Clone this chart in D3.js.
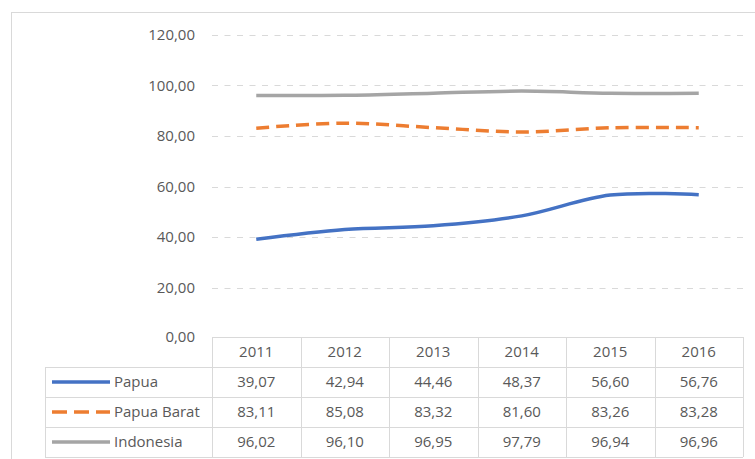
<!DOCTYPE html>
<html><head><meta charset="utf-8">
<script src="https://cdn.jsdelivr.net/npm/d3@7"></script>
<style>body{margin:0;background:#fff}svg{display:block}text{font-family:"Open Sans",sans-serif;fill:#595959}</style>
</head><body><svg id="c" width="755" height="459"></svg>
<script>
const years = ["2011","2012","2013","2014","2015","2016"];
const papua = [39.07, 42.94, 44.46, 48.37, 56.60, 56.76];
const papuaBarat = [83.11, 85.08, 83.32, 81.60, 83.26, 83.28];
const indonesia = [96.02, 96.10, 96.95, 97.79, 96.94, 96.96];
const seriesNames = ["Papua", "Papua Barat", "Indonesia"];
const yTicks = [0, 20, 40, 60, 80, 100, 120];

const series = [
  {name: seriesNames[0], values: papua, color: "#4472C4", dash: null},
  {name: seriesNames[1], values: papuaBarat, color: "#ED7D31", dash: "13,7"},
  {name: seriesNames[2], values: indonesia, color: "#A5A5A5", dash: null}
];
const fmt = v => v.toFixed(2).replace(".", ",");
const FS = "15px";

const svg = d3.select("#c");
svg.append("rect").attr("x", 11.5).attr("y", 12.5).attr("width", 760).attr("height", 460)
  .attr("fill", "none").attr("stroke", "#d9d9d9");

const pLeft = 212, pRight = 743, pTop = 35, pBottom = 338;
const x = d3.scaleBand().domain(years).range([pLeft, pRight]);
const y = d3.scaleLinear().domain([0, 120]).range([pBottom, pTop]);

svg.append("g").selectAll("line").data(yTicks.filter(t => t > 0)).join("line")
  .attr("x1", pLeft).attr("x2", pRight)
  .attr("y1", d => Math.round(y(d)) + 0.5).attr("y2", d => Math.round(y(d)) + 0.5)
  .attr("stroke", "#d9d9d9").attr("stroke-width", 1).attr("stroke-dasharray", "6,6.5");

const yAxis = d3.axisLeft(y).tickValues(yTicks).tickFormat(fmt).tickSize(0).tickPadding(0);
const ya = svg.append("g").attr("transform", "translate(195,0)").call(yAxis);
ya.select(".domain").remove();
ya.selectAll("text").style("font-size", FS).style("font-family", "'Open Sans',sans-serif").attr("fill", "#595959").attr("dy", "0.32em");
ya.selectAll(".tick").filter(d => d === 0).select("text").attr("dy", "0.2em");

const line = d3.line().x((d, i) => x(years[i]) + x.bandwidth() / 2).y(d => y(d)).curve(d3.curveCatmullRom.alpha(0.5));
svg.append("g").selectAll("path").data(series).join("path")
  .attr("d", d => line(d.values)).attr("fill", "none")
  .attr("stroke", d => d.color).attr("stroke-width", 3.5)
  .attr("stroke-dasharray", d => d.dash);

const rowTop = 337, rowH = 30, tableLeft = 45;
const g = svg.append("g");
const gridC = "#d9d9d9";
g.append("line").attr("x1", pLeft).attr("x2", pRight).attr("y1", rowTop + 0.5).attr("y2", rowTop + 0.5).attr("stroke", gridC);
for (let r = 1; r <= 4; r++) {
  g.append("line").attr("x1", tableLeft).attr("x2", pRight)
    .attr("y1", rowTop + r * rowH + 0.5).attr("y2", rowTop + r * rowH + 0.5).attr("stroke", gridC);
}
years.concat(["end"]).forEach((yr, i) => {
  const xx = pLeft + i * x.bandwidth();
  g.append("line").attr("x1", Math.round(xx) + 0.5).attr("x2", Math.round(xx) + 0.5)
    .attr("y1", rowTop).attr("y2", rowTop + 4 * rowH).attr("stroke", gridC);
});
g.append("line").attr("x1", tableLeft + 0.5).attr("x2", tableLeft + 0.5)
  .attr("y1", rowTop + rowH).attr("y2", rowTop + 4 * rowH).attr("stroke", gridC);

g.selectAll("text.hdr").data(years).join("text").attr("class", "hdr")
  .attr("x", d => x(d) + x.bandwidth() / 2).attr("y", rowTop + rowH / 2)
  .attr("text-anchor", "middle").attr("dy", "0.35em").style("font-size", FS).text(d => d);

series.forEach((s, si) => {
  const cy = rowTop + (si + 1) * rowH + rowH / 2;
  g.append("line").attr("x1", 52).attr("x2", 110).attr("y1", cy).attr("y2", cy)
    .attr("stroke", s.color).attr("stroke-width", 3.5).attr("stroke-dasharray", s.dash ? "15,7" : null);
  g.append("text").attr("x", 114).attr("y", cy).attr("dy", "0.35em")
    .style("font-size", FS).text(s.name);
  g.selectAll(null).data(s.values).join("text")
    .attr("x", (d, i) => x(years[i]) + x.bandwidth() / 2).attr("y", cy).attr("dy", "0.35em")
    .attr("text-anchor", "middle").style("font-size", FS).text(d => fmt(d));
});
</script></body></html>
